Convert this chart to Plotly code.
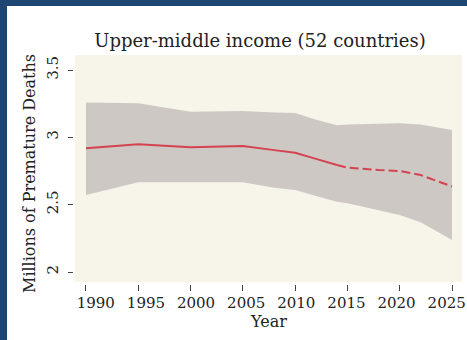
import plotly.graph_objects as go

# Estimated premature deaths (millions), upper-middle income countries
years = [1990, 1995, 2000, 2005, 2008, 2010, 2012, 2014, 2015, 2018, 2020, 2022, 2025]
central = [2.918, 2.948, 2.926, 2.936, 2.905, 2.886, 2.84, 2.795, 2.775, 2.757, 2.75, 2.72, 2.635]
upper = [3.258, 3.253, 3.19, 3.195, 3.185, 3.18, 3.13, 3.09, 3.095, 3.10, 3.105, 3.095, 3.054]
lower = [2.572, 2.666, 2.666, 2.666, 2.625, 2.609, 2.565, 2.522, 2.51, 2.455, 2.423, 2.37, 2.238]
split_year = 2014  # observed (solid) up to here, projected (dashed) after

x_ticks = [1990, 1995, 2000, 2005, 2010, 2015, 2020, 2025]
y_ticks = [2, 2.5, 3, 3.5]
y_tick_text = ["2", "2.5", "3", "3.5"]

SERIF = "DejaVu Serif, Liberation Serif, serif"
TEXT = "#222222"
RED = "#d4434f"
BAND = "#cdc8c3"
BEIGE = "#f7f4ea"
NAVY = "#1d4673"

obs_x = [y for y in years if y <= split_year]
obs_y = [v for y, v in zip(years, central) if y <= split_year]
proj_x = [y for y in years if y >= split_year]
proj_y = [v for y, v in zip(years, central) if y >= split_year]

fig = go.Figure()
fig.add_trace(go.Scatter(x=years, y=lower, mode="lines", line=dict(width=0),
                         hoverinfo="skip", showlegend=False))
fig.add_trace(go.Scatter(x=years, y=upper, mode="lines", line=dict(width=0),
                         fill="tonexty", fillcolor=BAND, hoverinfo="skip",
                         showlegend=False))
fig.add_trace(go.Scatter(x=obs_x, y=obs_y, mode="lines",
                         line=dict(color=RED, width=2), showlegend=False))
fig.add_trace(go.Scatter(x=proj_x, y=proj_y, mode="lines",
                         line=dict(color=RED, width=2, dash="9px,4px"),
                         showlegend=False))
# empty trace so the label axis (x2) is rendered
fig.add_trace(go.Scatter(x=x_ticks, y=[None] * len(x_ticks), xaxis="x2",
                         mode="lines", hoverinfo="skip", showlegend=False))

W, H = 467, 340
L, R, T, B = 74, 3, 53, 56
pw, ph = W - L - R, H - T - B


def px_x(p):
    return (p - L) / pw


def px_y(p):
    return (H - B - p) / ph


shapes = [
    # beige panel behind the data
    dict(type="rect", xref="paper", yref="paper", layer="below",
         x0=px_x(75), x1=px_x(462), y0=px_y(282), y1=px_y(55),
         fillcolor=BEIGE, line=dict(width=0)),
    # navy frame along top and left edge
    dict(type="rect", xref="paper", yref="paper", layer="above",
         x0=px_x(0), x1=px_x(W), y0=px_y(6), y1=px_y(0),
         fillcolor=NAVY, line=dict(width=0)),
    dict(type="rect", xref="paper", yref="paper", layer="above",
         x0=px_x(0), x1=px_x(7), y0=px_y(H), y1=px_y(0),
         fillcolor=NAVY, line=dict(width=0)),
]

annotations = [
    dict(text="Millions of Premature Deaths", textangle=-90, showarrow=False,
         xref="paper", yref="paper", x=px_x(29), y=px_y(174),
         xanchor="center", yanchor="middle",
         font=dict(size=16, family=SERIF, color=TEXT)),
]

fig.update_layout(
    width=W, height=H,
    margin=dict(l=L, r=R, t=T, b=B, pad=0, autoexpand=False),
    paper_bgcolor="white", plot_bgcolor="white",
    font=dict(family=SERIF, color=TEXT, size=16),
    title=dict(text="Upper-middle income (52 countries)", xref="container",
               x=260 / W, xanchor="center", y=1 - 41 / H, yanchor="middle",
               font=dict(size=18, family=SERIF, color=TEXT)),
    shapes=shapes,
    annotations=annotations,
    # tick marks at the data years
    xaxis=dict(range=[1988.853, 2026.148], tickvals=x_ticks,
               ticks="outside", ticklen=6, tickwidth=1, tickcolor="#444",
               showticklabels=False,
               showgrid=False, zeroline=False, showline=False,
               automargin=False),
    # year labels, set slightly tighter than the tick marks
    xaxis2=dict(range=[1987.826, 2026.725], tickvals=x_ticks,
                overlaying="x", anchor="y", side="bottom",
                ticks="outside", ticklen=5, tickcolor="rgba(0,0,0,0)",
                showgrid=False, zeroline=False, showline=False,
                automargin=False, ticklabeloverflow="allow",
                tickfont=dict(size=15, family=SERIF, color=TEXT),
                title=dict(text="Year", standoff=3,
                           font=dict(size=16, family=SERIF, color=TEXT))),
    yaxis=dict(range=[1.9109, 3.6262], tickvals=y_ticks, ticktext=y_tick_text,
               tickangle=-90, ticks="outside", ticklen=5, tickwidth=1,
               tickcolor="#444", showgrid=False, zeroline=False, showline=False,
               automargin=False, ticklabeloverflow="allow",
               ticklabelstandoff=4,
               tickfont=dict(size=15, family=SERIF, color=TEXT)),
)

fig.write_html("out.html")
